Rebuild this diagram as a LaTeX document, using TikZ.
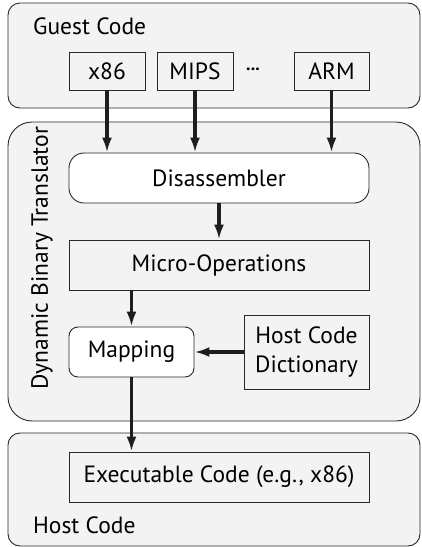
\documentclass[tikz,border=0pt]{standalone}
\usepackage{fontspec}
\setmainfont{PT Sans}
\usepackage{tikz}
\usetikzlibrary{positioning,arrows.meta,calc}
\usepackage{xcolor}
\definecolor{panelgray}{RGB}{243,243,243}
\definecolor{edgegray}{RGB}{40,40,40}
\definecolor{flowblack}{RGB}{30,30,30}

\begin{document}
\begin{tikzpicture}[
  x=1pt,y=-1pt,
  >={Latex[length=15pt,width=10pt]},
  panel/.style={draw=edgegray,fill=panelgray,line width=0.9pt},
  unitbox/.style={draw=edgegray,fill=panelgray,line width=0.9pt,inner sep=0pt,
    minimum height=50pt,font=\fontsize{23.5}{29.5}\selectfont,align=center},
  roundbox/.style={unitbox,fill=white,rounded corners=15pt},
  isabox/.style={unitbox,minimum width=76pt,minimum height=38pt},
  panel lab/.style={font=\fontsize{23.5}{27}\selectfont,inner sep=0pt},
  flow/.style={->,line width=3.2pt,flowblack}
]
\useasboundingbox (0,0) rectangle (422,547);

% Guest code panel
\draw[panel,rounded corners=12pt] (8,3) rectangle (420,108);
\node[panel lab,anchor=west] (guestlab) at (33,26) {Guest Code};
\node[isabox] (x86) at (107,71) {x86};
\node[isabox] (mips) at (195,71) {MIPS};
\node[panel lab,font=\fontsize{18}{20}\selectfont\bfseries] (dots) at (253,69) {...};
\node[isabox,minimum width=75pt] (arm) at (331.5,71) {ARM};

% Dynamic binary translator panel
\draw[panel,rounded corners=24pt] (8,122) rectangle (420,421);
\node[panel lab,rotate=90] (dbtlab) at (42,258) {Dynamic Binary Translator};
\node[roundbox,minimum width=300pt] (dis) at (219,178) {Disassembler};
\node[unitbox,minimum width=300pt] (micro) at (219,265) {Micro-Operations};
\node[roundbox,minimum width=125pt,rounded corners=9pt] (map) at (131.5,352) {Mapping};
\node[unitbox,minimum width=125pt,minimum height=74pt] (dict) at (306.5,352) {Host Code\\Dictionary};

% Host code panel
\draw[panel,rounded corners=12pt] (8,433) rectangle (420,546);
\node[unitbox,minimum width=300pt] (exec) at (219,477) {Executable Code (e.g., x86)};
\node[panel lab,anchor=west] (hostlab) at (33,525) {Host Code};

% Flow arrows
\draw[flow] (x86.south) -- (x86.south |- dis.north);
\draw[flow] (mips.south) -- (mips.south |- dis.north);
\draw[flow] (arm.south) -- (arm.south |- dis.north);
\draw[flow] (dis.south) -- (micro.north);
\draw[flow] (map.north |- micro.south) -- (map.north);
\draw[flow] (dict.west) -- (map.east);
\draw[flow] (map.south) -- (map.south |- exec.north);

\end{tikzpicture}
\end{document}
